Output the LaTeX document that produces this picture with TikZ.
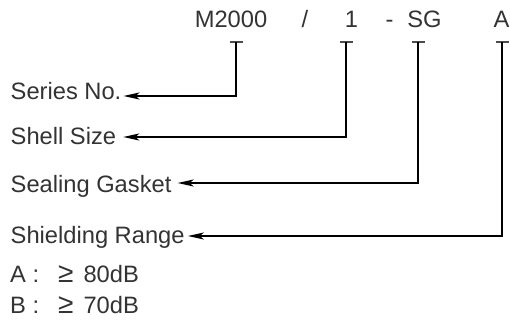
\documentclass[tikz,border=0pt]{standalone}
\usepackage{fontspec}
\setmainfont{Liberation Sans}
\usetikzlibrary{arrows.meta}
\definecolor{txtgray}{HTML}{333333}
\newcommand{\geqsign}{{\fontsize{28}{30}\selectfont ≥}}
\begin{document}
\begin{tikzpicture}[x=1pt,y=-1pt,
  txt/.style={font=\fontsize{23.7}{28}\selectfont, text=txtgray, inner sep=0pt, anchor=base},
  lbl/.style={txt, anchor=base west},
  tick/.style={draw=black!70, line width=1.6pt},
  lead/.style={draw=black, line width=1.8pt, -{Stealth[length=16pt,width=7pt,inset=4pt]}}]
\useasboundingbox (0,0) rectangle (510,320);
% code letters
\node[txt] (m)  at (231,28) {M2000};
\node[txt] (sl) at (305,28) {/};
\node[txt] (one) at (351.5,28) {1};
\node[txt] (da) at (389.5,28) {-};
\node[txt] (sg) at (424.5,28) {SG};
\node[txt] (a)  at (501.5,28) {A};
% tick tops
\coordinate (t1) at (236,42);
\coordinate (t2) at (346,42);
\coordinate (t3) at (418,42);
\coordinate (t4) at (502,42);
\foreach \t in {t1,t2,t3,t4}{\draw[tick] ([xshift=-6.5pt]\t) -- ([xshift=6.5pt]\t);}
% labels
\node[lbl] (series) at (10.5,100) {Series No.};
\node[lbl] (shell) at (10.5,145) {Shell Size};
\node[lbl] (seal) at (10.5,192) {Sealing Gasket};
\node[lbl] (shield) at (10.5,243) {Shielding Range};
\node[lbl] (ra) at (10,282) {\makebox[48pt][l]{A :}\geqsign\hspace{10pt}80dB};
\node[lbl] (rb) at (10,313) {\makebox[48pt][l]{B :}\geqsign\hspace{10pt}70dB};
% leaders
\draw[lead] (t1) |- ([xshift=2pt,yshift=4pt]series.base east);
\draw[lead] (t2) |- ([xshift=7pt,yshift=8pt]shell.base east);
\draw[lead] (t3) |- ([xshift=6pt,yshift=9pt]seal.base east);
\draw[lead] (t4) |- ([xshift=3pt,yshift=7pt]shield.base east);
\end{tikzpicture}
\end{document}
